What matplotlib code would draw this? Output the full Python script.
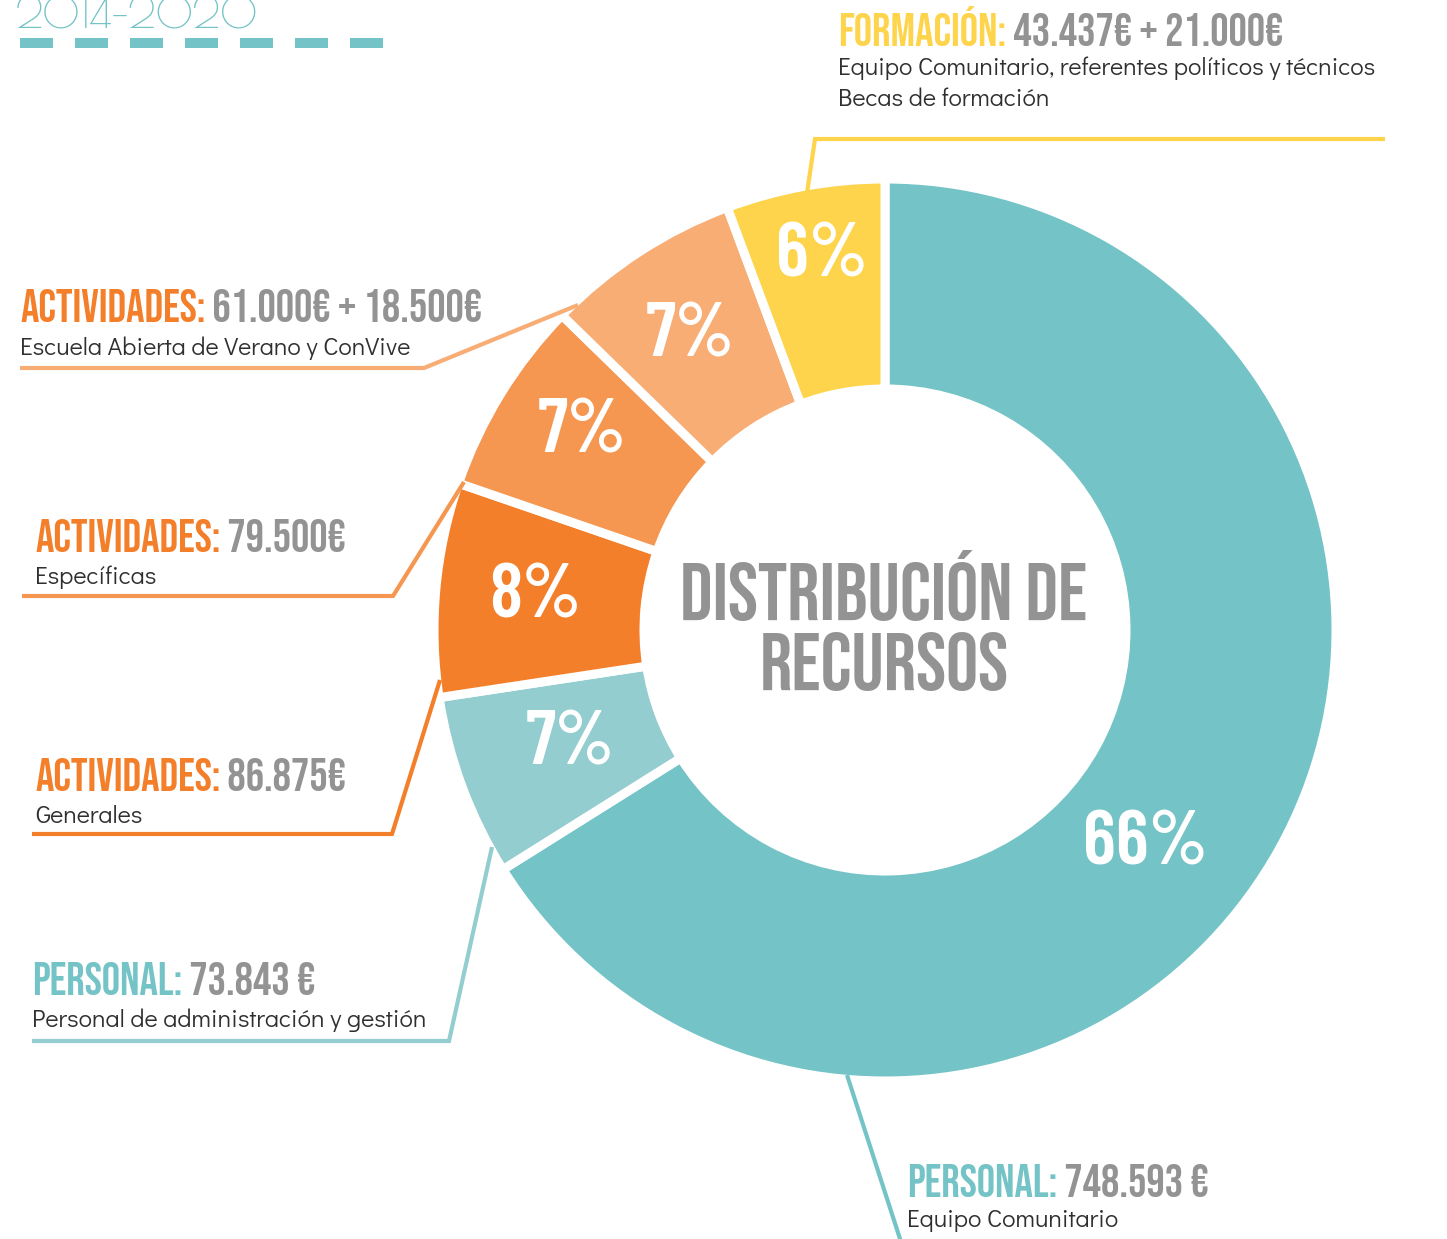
import matplotlib
matplotlib.use("Agg")
import matplotlib.pyplot as plt
from matplotlib import font_manager as fm

W, H = 1447, 1239
AVAILABLE = set(f.name for f in fm.fontManager.ttflist)


def pick(*names):
    for n in names:
        if n in AVAILABLE:
            return n
    return "DejaVu Sans"


F_HEAD = pick("Bebas Neue", "Oswald", "Antonio", "DejaVu Sans")
F_PCT = pick("Barlow Condensed", "Bebas Neue", "DejaVu Sans")
F_SUB = pick("Didact Gothic", "Questrial", "Lato", "DejaVu Sans")
F_YEAR = pick("Poiret One", "Didact Gothic", "Lato", "DejaVu Sans")

# ---------------- data ----------------
categories = ["Personal - Equipo Comunitario",
              "Personal - Administración y gestión",
              "Actividades Generales",
              "Actividades Específicas",
              "Actividades Escuela Abierta de Verano y ConVive",
              "Formación"]
values = [748593, 73843, 86875, 79500, 79500, 64437]
colors = ["#74C3C6", "#93CDCF", "#F47F2A", "#F59751", "#F8AD75", "#FDD44B"]

head_labels = ["PERSONAL:", "PERSONAL:", "ACTIVIDADES:", "ACTIVIDADES:", "ACTIVIDADES:", "FORMACIÓN:"]
amount_labels = [" 748.593 €", " 73.843 €", " 86.875€", " 79.500€", " 61.000€ + 18.500€", " 43.437€ + 21.000€"]
sub_labels = [["Equipo Comunitario"],
              ["Personal de administración y gestión"],
              ["Generales"],
              ["Específicas"],
              ["Escuela Abierta de Verano y ConVive"],
              ["Equipo Comunitario, referentes políticos y técnicos", "Becas de formación"]]
head_colors = ["#74C3C6", "#74C3C6", "#F47F2A", "#F47F2A", "#F47F2A", "#FDD44B"]
center_title = ["DISTRIBUCIÓN DE", "RECURSOS"]
year_title = "2014-2020"

# ---------------- layout (pixels from top-left) ----------------
CX, CY = 885, 630
R_OUT, R_IN = 451, 241
pct_pos = [(1145, 845), (570, 745), (535, 598), (582, 433), (690, 337), (822, 257)]
head_pos = [(907, 1197), (32, 995), (35, 791), (35, 552), (20, 322), (838, 46)]
sub_pos = [(907, 1227), (32, 1027), (35, 823), (35, 584), (20, 355), (838, 75)]
SUB_STEP = 31
title_pos = [(884, 620), (884, 690)]
leaders = [
    [(847, 1075), (902, 1245)],
    [(492, 847), (449, 1041), (32, 1041)],
    [(440, 680), (392, 834), (32, 834)],
    [(464, 482), (393, 596), (22, 596)],
    [(578, 305), (424, 368), (20, 368)],
    [(807, 193), (815, 139), (1385, 139)],
]
leader_colors = ["#74C3C6", "#93CDCF", "#F47F2A", "#F59751", "#F8AD75", "#FDD44B"]

GRAY = "#939393"
SUBC = "#2f2f2f"

fig = plt.figure(figsize=(W / 100, H / 100), dpi=100)
fig.patch.set_facecolor("white")
ax = fig.add_axes([0, 0, 1, 1])


def fy(y):
    return H - y


wedges, _ = ax.pie(values, colors=colors, startangle=90, counterclock=False,
                   radius=R_OUT, center=(CX, fy(CY)),
                   wedgeprops=dict(width=R_OUT - R_IN, edgecolor="white", linewidth=6.5))
ax.set_xlim(0, W)
ax.set_ylim(0, H)
ax.set_aspect("equal")
ax.axis("off")

total = sum(values)
for v, (px, py) in zip(values, pct_pos):
    ax.text(px, fy(py), f"{round(100 * v / total)}%", ha="center", va="center",
            color="white", fontsize=55, family=F_PCT, fontweight=600)

for line, (tx, ty) in zip(center_title, title_pos):
    ax.text(tx, fy(ty), line, ha="center", va="baseline", color=GRAY,
            fontsize=58, family=F_HEAD)

# leader lines
for pts, c in zip(leaders, leader_colors):
    xs = [p[0] for p in pts]
    ys = [fy(p[1]) for p in pts]
    ax.plot(xs, ys, color=c, lw=3.0, solid_joinstyle="miter", solid_capstyle="butt", zorder=1)

# labels
for hl, al, sl, hc, (hx, hy), (sx, sy) in zip(head_labels, amount_labels, sub_labels,
                                              head_colors, head_pos, sub_pos):
    t1 = ax.text(hx, fy(hy), hl, color=hc, fontsize=33, family=F_HEAD,
                 ha="left", va="baseline")
    ax.annotate(al, xy=(1, 0), xycoords=t1, ha="left", va="bottom",
                color=GRAY, fontsize=33, family=F_HEAD)
    for i, s in enumerate(sl):
        ax.text(sx, fy(sy + i * SUB_STEP), s, color=SUBC, fontsize=18, family=F_SUB,
                ha="left", va="baseline")

# year title and dashes
ax.text(16, fy(28), year_title, color="#74C3C6", fontsize=31, family=F_YEAR,
        ha="left", va="baseline")
ax.plot([20, 385], [fy(43), fy(43)], color="#74C3C6", lw=7.2,
        dashes=(33 * 0.72 / 7.2, 22 * 0.72 / 7.2), dash_capstyle="butt", solid_capstyle="butt")

fig.savefig("out.png", dpi=100, facecolor="white")
